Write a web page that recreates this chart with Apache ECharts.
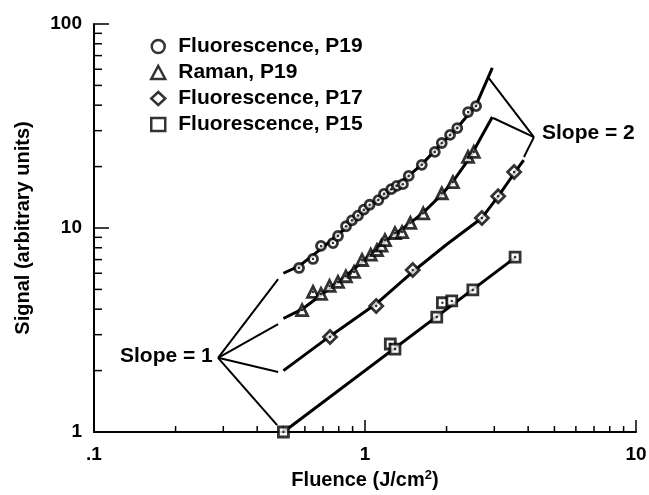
<!DOCTYPE html>
<html>
<head>
<meta charset="utf-8">
<script src="https://cdn.jsdelivr.net/npm/echarts@6/dist/echarts.min.js"></script>
<style>
  html, body { margin: 0; background: #fff; }
  #main { width: 649px; height: 495px; }
</style>
</head>
<body>
<div id="main"></div>
<script>
// measured points, [fluence J/cm2, signal]
const fluorP19 = [
  [0.571, 6.37], [0.643, 7.05], [0.688, 8.17], [0.762, 8.44], [0.795, 9.14],
  [0.851, 10.2], [0.895, 10.9], [0.942, 11.5], [0.99, 12.3], [1.04, 13.0],
  [1.12, 13.7], [1.175, 14.7], [1.25, 15.5], [1.31, 16.1], [1.38, 16.4],
  [1.45, 18.0], [1.62, 20.4], [1.81, 23.6], [1.92, 26.1], [2.06, 28.6],
  [2.19, 30.9], [2.40, 37.0], [2.57, 39.6]
];
const ramanP19 = [
  [0.586, 3.96], [0.643, 4.86], [0.688, 4.75], [0.74, 5.2], [0.795, 5.44],
  [0.85, 5.8], [0.911, 6.09], [0.975, 6.97], [1.05, 7.4], [1.107, 7.8],
  [1.15, 8.2], [1.185, 8.73], [1.29, 9.45], [1.37, 9.55], [1.47, 10.6],
  [1.64, 11.8], [1.92, 14.8], [2.11, 16.8], [2.40, 22.3], [2.52, 23.6]
];
const fluorP17 = [
  [0.743, 2.92], [1.10, 4.15], [1.50, 6.22], [2.70, 11.2], [3.10, 14.3], [3.55, 18.8]
];
const fluorP15 = [
  [0.5, 1.0], [1.24, 2.70], [1.29, 2.55], [1.84, 3.66], [1.93, 4.3],
  [2.09, 4.39], [2.5, 4.97], [3.58, 7.2]
];

// fitted curves
const fitP19 = [
  [0.5, 6.0], [0.571, 6.5], [0.688, 7.9], [0.85, 10.0], [1.0, 12.2], [1.25, 15.5],
  [1.45, 18.0], [1.62, 20.5], [1.92, 26], [2.19, 31], [2.57, 40], [2.95, 61]
];
const fitRaman = [
  [0.5, 3.6], [0.586, 4.0], [0.8, 5.45], [1.0, 7.0], [1.2, 8.7], [1.47, 10.6],
  [1.64, 11.9], [1.92, 14.6], [2.11, 16.9], [2.4, 21.5], [2.52, 24], [2.95, 35]
];
const fitP17 = [
  [0.5, 2.0], [0.743, 2.95], [1.1, 4.25], [1.5, 6.1], [2.0, 8.3], [2.7, 11.2],
  [3.1, 14.3], [3.55, 18.5], [3.85, 21.5]
];
const fitP15 = [[0.5, 1.0], [3.6, 7.2]];

// annotation leaders: apex then the ends of each line
const slope1Apex = [0.287, 2.31];
const slope1Ends = [[0.478, 5.62], [0.478, 3.38], [0.478, 1.97], [0.474, 1.08]];
const slope2Apex = [4.2, 27.9];
const slope2Ends = [[2.84, 55], [2.97, 34.6], [3.86, 22.3]];

// axis ticks
const xMinorTicks = [0.2, 0.3, 0.4, 0.5, 0.6, 0.7, 0.8, 0.9, 2, 3, 4, 5, 6, 7, 8, 9];
const yMinorTicks = [2, 3, 4, 5, 6, 7, 8, 9, 20, 30, 40, 50, 60, 70, 80, 90];

const FONT = 'Liberation Sans';
const chart = echarts.init(document.getElementById('main'));

const markerStyle = {
  color: '#fff',
  borderColor: '#000',
  borderWidth: 2.8
};

function scatter (name, data, symbol, size) {
  return {
    name: name,
    type: 'scatter',
    data: data,
    symbol: symbol,
    symbolSize: size,
    itemStyle: markerStyle,
    z: 5
  };
}
function dots (data) {
  return {
    type: 'scatter',
    data: data,
    symbol: 'circle',
    symbolSize: 2.5,
    itemStyle: { color: '#000' },
    silent: true,
    z: 6
  };
}
function fit (data) {
  return {
    type: 'line',
    data: data,
    symbol: 'none',
    smooth: false,
    lineStyle: { color: '#000', width: 3 },
    silent: true,
    z: 3
  };
}
function leaders (apex, ends) {
  return ends.map(e => [{ coord: apex }, { coord: e }]);
}

// minor ticks drawn inside, like the printed axes
function tickSeries (values, onX) {
  return {
    type: 'custom',
    silent: true,
    clip: false,
    data: values.map(v => onX ? [v, 1] : [0.1, v]),
    renderItem (params, api) {
      const p = api.coord([api.value(0), api.value(1)]);
      return {
        type: 'line',
        shape: onX
          ? { x1: p[0], y1: p[1], x2: p[0], y2: p[1] - 6 }
          : { x1: p[0], y1: p[1], x2: p[0] + 8, y2: p[1] },
        style: { stroke: '#000', lineWidth: 1.5 }
      };
    },
    z: 2
  };
}

const option = {
  animation: false,
  backgroundColor: '#fff',
  textStyle: { fontFamily: FONT },
  grid: { left: 94, right: 13, top: 24, bottom: 63, outerBoundsMode: 'none' },
  legend: {
    data: ['Fluorescence, P19', 'Raman, P19', 'Fluorescence, P17', 'Fluorescence, P15'],
    orient: 'vertical',
    left: 145,
    top: 31,
    itemWidth: 14,
    itemHeight: 13,
    itemGap: 5,
    selectedMode: false,
    itemStyle: { borderWidth: 2.5, borderColor: '#000', color: '#fff' },
    textStyle: {
      fontFamily: FONT, fontWeight: 'bold', fontSize: 21, color: '#000',
      lineHeight: 20, padding: [0, 0, 0, 8]
    }
  },
  xAxis: {
    type: 'log',
    logBase: 10,
    min: 0.1,
    max: 10,
    name: 'Fluence (J/cm{sup|2})',
    nameLocation: 'middle',
    nameGap: 36,
    nameTextStyle: {
      fontFamily: FONT, fontWeight: 'bold', fontSize: 20, color: '#000', lineHeight: 24,
      rich: { sup: { fontFamily: FONT, fontWeight: 'bold', fontSize: 13, verticalAlign: 'top', lineHeight: 12, padding: [0, 0, 6, 0] } }
    },
    axisLine: { lineStyle: { color: '#000', width: 2 } },
    axisTick: { inside: true, length: 12, lineStyle: { color: '#000', width: 1.5 } },
    axisLabel: {
      margin: 13,
      fontFamily: FONT, fontWeight: 'bold', fontSize: 19, color: '#000',
      formatter: v => {
        const e = Math.round(Math.log10(v));
        return e < 0 ? '.1' : String(Math.pow(10, e));
      }
    },
    splitLine: { show: false }
  },
  yAxis: {
    type: 'log',
    logBase: 10,
    min: 1,
    max: 100,
    name: 'Signal (arbitrary units)',
    nameLocation: 'middle',
    nameGap: 61,
    nameTextStyle: { fontFamily: FONT, fontWeight: 'bold', fontSize: 20, color: '#000' },
    axisLine: { lineStyle: { color: '#000', width: 2 } },
    axisTick: { inside: true, length: 15, lineStyle: { color: '#000', width: 1.5 } },
    axisLabel: {
      margin: 12,
      fontFamily: FONT, fontWeight: 'bold', fontSize: 19, color: '#000',
      formatter: v => String(Math.round(v))
    },
    splitLine: { show: false }
  },
  graphic: [
    {
      type: 'text', left: 120, top: 346,
      style: { text: 'Slope = 1', font: 'bold 21px "Liberation Sans"', fill: '#000' }
    },
    {
      type: 'text', left: 542, top: 123,
      style: { text: 'Slope = 2', font: 'bold 21px "Liberation Sans"', fill: '#000' }
    }
  ],
  series: [
    fit(fitP19), fit(fitRaman), fit(fitP17), fit(fitP15),
    {
      type: 'scatter',
      data: [],
      silent: true,
      markLine: {
        silent: true,
        symbol: 'none',
        label: { show: false },
        lineStyle: { color: '#000', width: 2, type: 'solid' },
        data: leaders(slope1Apex, slope1Ends).concat(leaders(slope2Apex, slope2Ends))
      }
    },
    tickSeries(xMinorTicks, true),
    tickSeries(yMinorTicks, false),
    scatter('Fluorescence, P19', fluorP19, 'circle', 9),
    scatter('Raman, P19', ramanP19, 'triangle', 11),
    scatter('Fluorescence, P17', fluorP17, 'diamond', 13),
    scatter('Fluorescence, P15', fluorP15, 'rect', 10),
    dots(fluorP19), dots(ramanP19), dots(fluorP17), dots(fluorP15)
  ]
};

chart.setOption(option);
</script>
</body>
</html>
